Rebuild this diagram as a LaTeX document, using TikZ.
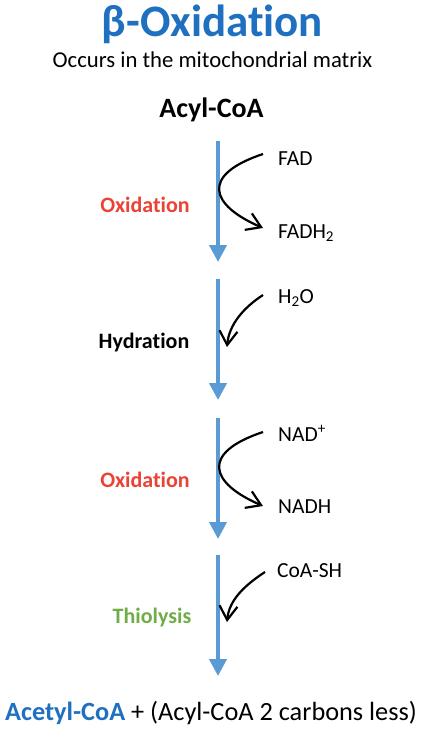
\documentclass[tikz,border=0pt]{standalone}
\usepackage{fontspec}
\setmainfont[Ligatures={NoCommon,NoContextual,NoRequired}]{Carlito}
\usetikzlibrary{arrows.meta}
\definecolor{titleblue}{RGB}{31,112,193}
\definecolor{arrowblue}{RGB}{91,155,213}
\definecolor{oxred}{RGB}{234,67,53}
\definecolor{thiogreen}{RGB}{112,173,71}
\tikzset{
  mainarrow/.style={draw=arrowblue, line width=4pt, -{Triangle[length=17pt,width=17pt]}},
  sidearrow/.style={draw=black, line width=2.2pt, -{Straight Barb[length=14pt,width=18pt,line width=2.2pt]}},
  steplabel/.style={anchor=base, font=\fontsize{22}{26}\selectfont\bfseries, inner sep=0pt},
  species/.style={anchor=base west, font=\fontsize{21.5}{25}\selectfont, inner sep=0pt},
}
\begin{document}
\begin{tikzpicture}[x=1pt,y=-1pt]
\useasboundingbox (0,0) rectangle (423,730);
\node[anchor=base, inner sep=0pt, text=titleblue, font=\fontsize{45}{50}\selectfont\bfseries] (title) at (212.5,37) {β-Oxidation};
\node[anchor=base, inner sep=0pt, font=\fontsize{22.7}{27}\selectfont] (sub) at (212.5,68) {Occurs in the mitochondrial matrix};
\node[anchor=base, inner sep=0pt, font=\fontsize{28}{32}\selectfont\bfseries] (acyl) at (211.5,118) {Acyl-CoA};

% step labels
\node[steplabel, text=oxred] (ox1) at (145,212) {Oxidation};
\node[steplabel] (hyd) at (144,348) {Hydration};
\node[steplabel, text=oxred] (ox2) at (145,487) {Oxidation};
\node[steplabel, text=thiogreen] (thio) at (152,623) {Thiolysis};

% species
\node[species] (fad) at (278,166) {FAD};
\node[species] (fadh) at (278,238) {FADH\textsubscript{2}};
\node[species] (water) at (278,303) {H\textsubscript{2}O};
\node[species] (nad) at (278,441) {NAD\textsuperscript{+}};
\node[species] (nadh) at (278,513) {NADH};
\node[species] (coash) at (277,577) {CoA-SH};

% bottom
\node[anchor=base, inner sep=0pt, font=\fontsize{26.3}{30}\selectfont] (prod) at (211,720) {\textcolor{titleblue}{\bfseries Acetyl-CoA} + (Acyl-CoA 2 carbons less)};

% main arrows
\coordinate (a1s) at (218,141); \coordinate (a1e) at (218,262);
\coordinate (a2s) at (218,279); \coordinate (a2e) at (218,400);
\coordinate (a3s) at (218,418); \coordinate (a3e) at (218,539);
\coordinate (a4s) at (218,555); \coordinate (a4e) at (218,676);
\draw[mainarrow] (a1s) -- (a1e);
\draw[mainarrow] (a2s) -- (a2e);
\draw[mainarrow] (a3s) -- (a3e);
\draw[mainarrow] (a4s) -- (a4e);

% side arrows
\coordinate (c1s) at (263,154); \coordinate (c1e) at (263,228);
\draw[sidearrow] (c1s) .. controls (200,175) and (210,205) .. (c1e);
\coordinate (c2s) at (263,295); \coordinate (c2e) at (227,347);
\draw[sidearrow] (c2s) .. controls (243,308) and (229,325) .. (c2e);
\coordinate (c3s) at (263,432); \coordinate (c3e) at (263,506);
\draw[sidearrow] (c3s) .. controls (200,453) and (210,483) .. (c3e);
\coordinate (c4s) at (265,572); \coordinate (c4e) at (227,622);
\draw[sidearrow] (c4s) .. controls (245,585) and (229,600) .. (c4e);
\end{tikzpicture}
\end{document}
